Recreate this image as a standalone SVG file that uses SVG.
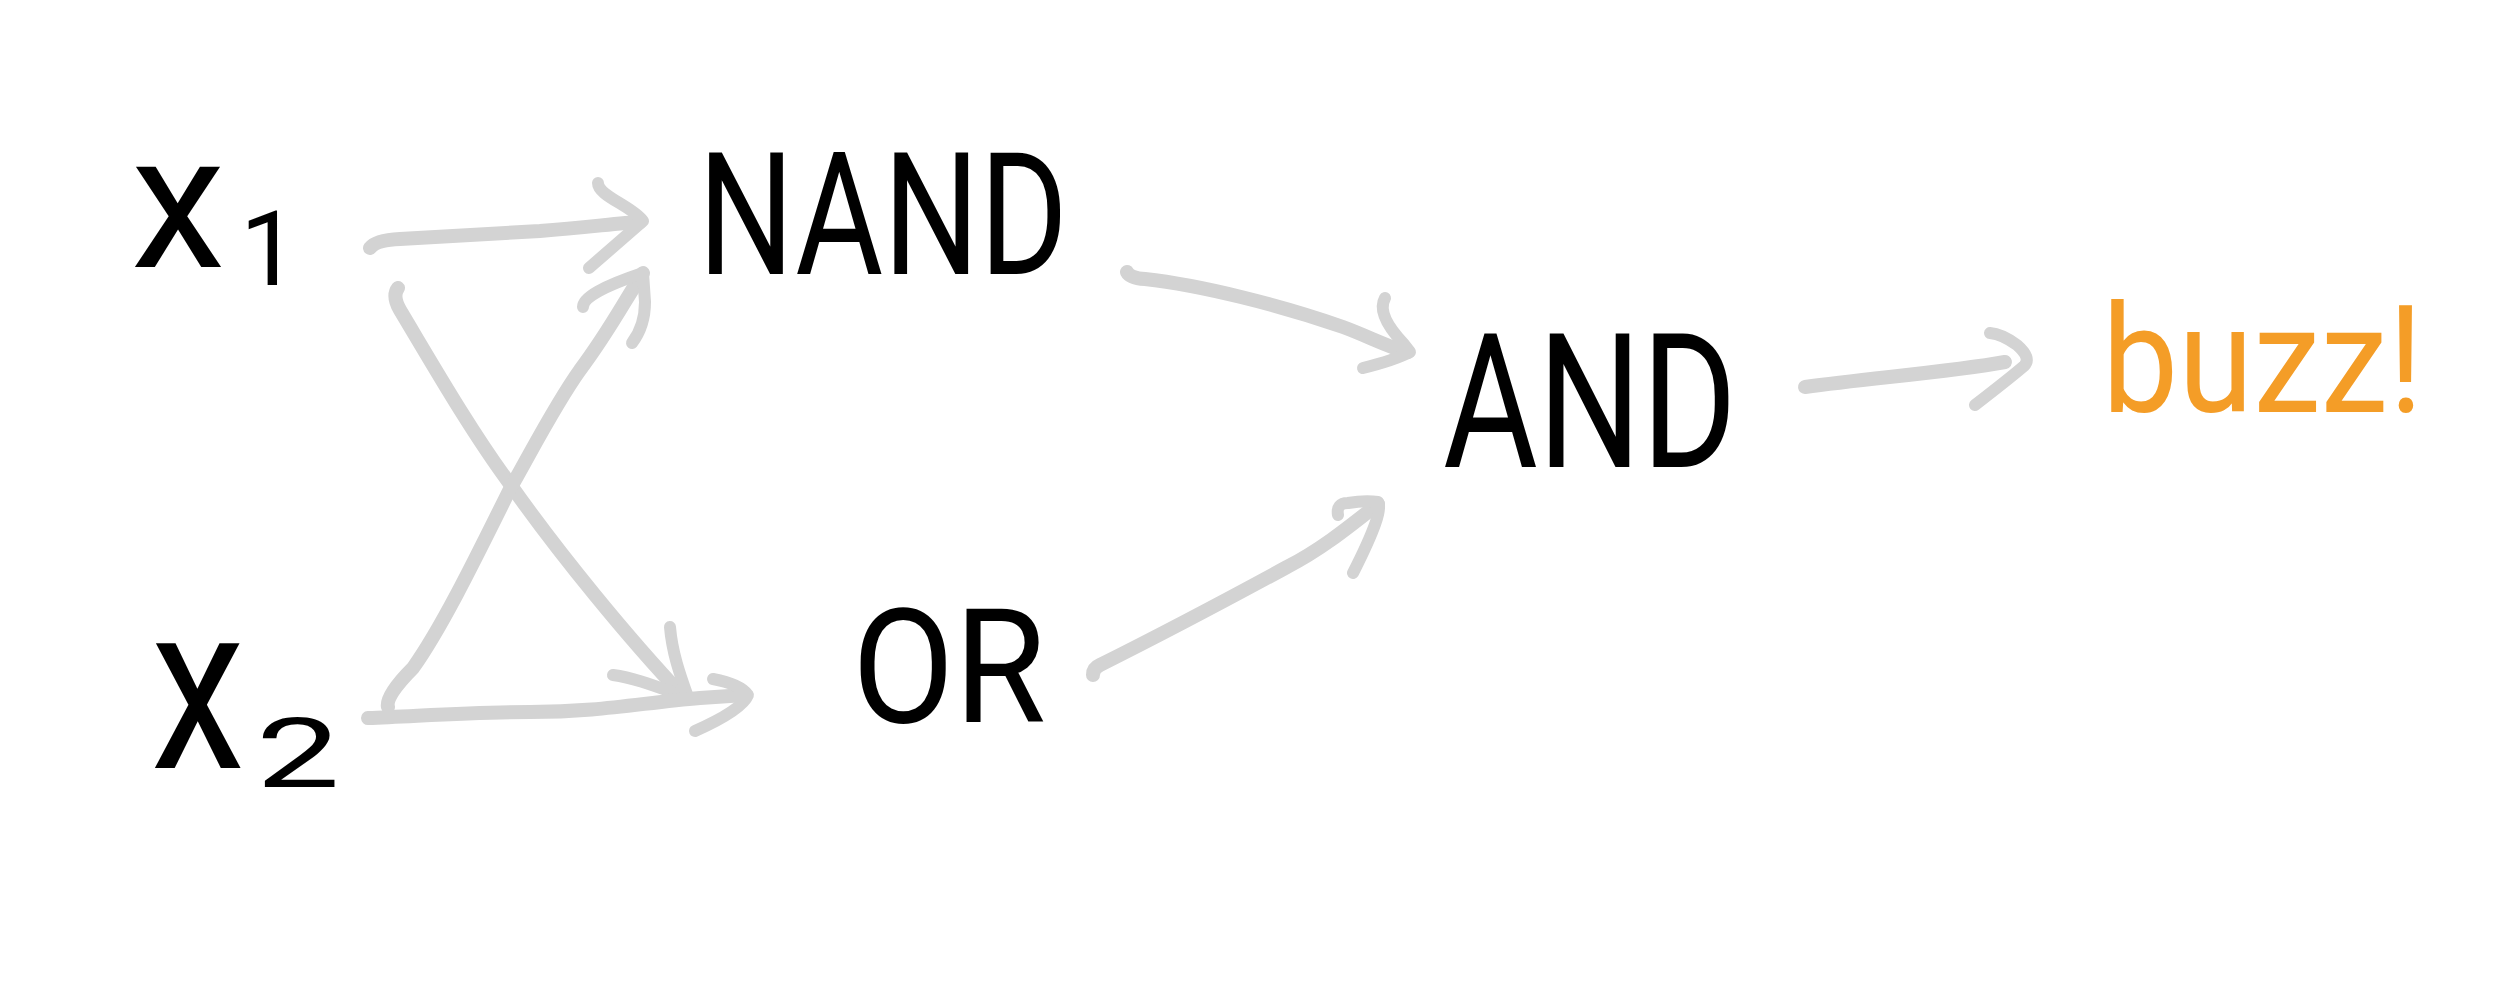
<svg xmlns="http://www.w3.org/2000/svg" width="2511" height="1000" viewBox="0 0 2511 1000">
<style>
.bg{fill:#ffffff}
.lbl{font-family:Roboto,"Liberation Sans","DejaVu Sans",sans-serif;fill:#000000}
.out{font-family:Roboto,"Liberation Sans","DejaVu Sans",sans-serif;fill:#F49D27}
.shaft{fill:none;stroke:#d3d3d3;stroke-width:14;stroke-linecap:round;stroke-linejoin:round}
.head{fill:none;stroke:#d3d3d3;stroke-width:12;stroke-linecap:round;stroke-linejoin:round}
</style>
<rect class="bg" x="0" y="0" width="2511" height="1000"/>
<g id="connectors">
  <g id="x1-nand">
    <path class="shaft" d="M370,248 Q376,240 400,239 C450,236 500,233 540,231 C590,227 620,223 640,222"/>
    <path class="head" d="M598,183 C598,196 632,206 643,221 L589,268"/>
  </g>
  <g id="x1-or">
    <path class="shaft" d="M398,288 Q392,296 400,310 C430,360 470,430 510,484 C560,555 630,640 683,696"/>
    <path class="head" d="M613,675 C635,678 655,686 683,696 M670,627 C672,652 680,675 688,697"/>
  </g>
  <g id="x2-nand">
    <path class="shaft" d="M388,707 Q385,696 413,668 C440,630 470,570 510,489 C535,445 555,405 580,370 C610,330 625,300 643,273"/>
    <path class="head" d="M583,307 Q583,293 643,273 L645,302 Q645,326 632,343"/>
  </g>
  <g id="x2-or">
    <path class="shaft" d="M368,718 C420,716 470,712 530,712 C600,712 640,703 700,698 L745,695"/>
    <path class="head" d="M713,679 Q740,684 748,695 Q742,710 695,731"/>
  </g>
  <g id="nand-and">
    <path class="shaft" d="M1127,272 Q1130,278 1145,279 C1200,285 1280,305 1343,327 C1370,337 1390,348 1408,352"/>
    <path class="head" d="M1385,298 Q1376,314 1403,343 L1410,352 Q1395,360 1363,368"/>
  </g>
  <g id="or-and">
    <path class="shaft" d="M1093,675 Q1093,668 1100,665 C1160,635 1230,598 1287,567 C1320,550 1345,530 1378,504"/>
    <path class="head" d="M1338,515 Q1336,503 1348,503 Q1365,500 1378,502 Q1385,510 1353,573"/>
  </g>
  <g id="and-buzz">
    <path class="shaft" d="M1805,387 C1870,378 1950,372 2005,362"/>
    <path class="head" d="M1990,333 Q2002,334 2017,345 Q2032,358 2024,366 Q2010,378 1975,405"/>
  </g>
</g>
<g id="node-x1">
  <text class="lbl" x="131" y="267" font-size="190">x</text>
  <text class="lbl" x="240" y="285" font-size="104">1</text>
</g>
<g id="node-x2">
  <text class="lbl" transform="translate(151,768) scale(0.8,1)" x="0" y="0" font-size="236">x</text>
  <text class="lbl" x="256" y="787" font-size="96" textLength="84" lengthAdjust="spacingAndGlyphs">2</text>
</g>
<g id="node-nand">
  <text class="lbl" x="698" y="274" font-size="170" textLength="370" lengthAdjust="spacingAndGlyphs">NAND</text>
</g>
<g id="node-or">
  <text class="lbl" x="852" y="722" font-size="160" textLength="194" lengthAdjust="spacingAndGlyphs">OR</text>
</g>
<g id="node-and">
  <text class="lbl" x="1443" y="467" font-size="188" textLength="294" lengthAdjust="spacingAndGlyphs">AND</text>
</g>
<g id="node-buzz">
  <text class="out" x="2102" y="412" font-size="150" textLength="321" lengthAdjust="spacingAndGlyphs">buzz!</text>
</g>
</svg>
